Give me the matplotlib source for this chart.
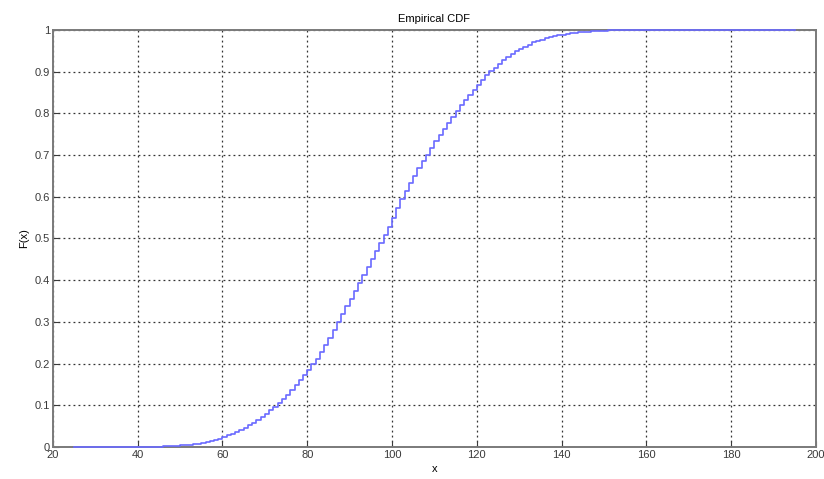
import numpy as np
import matplotlib.pyplot as plt

# valores (x entero -> F(x))
x_vals = list(range(25, 44)) + list(range(44, 155)) + [195]
F_cero = [0.0] * 19
F_medio = [
    0.001, 0.001, 0.002, 0.002, 0.003, 0.003, 0.004, 0.005, 0.006, 0.007,   # 44-53
    0.008, 0.010, 0.012, 0.014, 0.017, 0.020, 0.024, 0.028, 0.032, 0.036,   # 54-63
    0.041, 0.046, 0.052, 0.058, 0.065, 0.072, 0.080, 0.088, 0.096, 0.105,   # 64-73
    0.115, 0.125, 0.136, 0.148, 0.160, 0.172, 0.185, 0.198, 0.212, 0.228,   # 74-83
    0.245, 0.262, 0.281, 0.300, 0.318, 0.337, 0.356, 0.375, 0.394, 0.412,   # 84-93
    0.431, 0.450, 0.469, 0.488, 0.508, 0.527, 0.550, 0.572, 0.594, 0.614,   # 94-103
    0.633, 0.651, 0.668, 0.685, 0.701, 0.717, 0.733, 0.748, 0.763, 0.778,   # 104-113
    0.792, 0.806, 0.819, 0.832, 0.845, 0.857, 0.869, 0.880, 0.891, 0.901,   # 114-123
    0.910, 0.919, 0.927, 0.935, 0.942, 0.949, 0.955, 0.960, 0.965, 0.970,   # 124-133
    0.974, 0.977, 0.980, 0.983, 0.985, 0.987, 0.989, 0.991, 0.992, 0.993,   # 134-143
    0.994, 0.995, 0.996, 0.997, 0.997, 0.998, 0.998, 0.999, 0.999, 0.999,   # 144-153
    1.0,                                                                    # 154
]
F_vals = F_cero + F_medio + [1.0]

x_ticks = list(range(20, 201, 20))
y_ticks = [round(0.1 * i, 1) for i in range(11)]
y_labels = ["0", "0.1", "0.2", "0.3", "0.4", "0.5", "0.6", "0.7", "0.8", "0.9", "1"]

plt.rcParams['font.family'] = ['Liberation Sans', 'DejaVu Sans']

fig = plt.figure(figsize=(8.24, 4.79), dpi=100)
ax = fig.add_axes([0.0643, 0.0668, 0.9257, 0.8706])

# la linea va encima de los ejes, como en matlab
ax.step(x_vals, F_vals, where='post', color='#6a6aff', linewidth=1.2,
        zorder=5, clip_on=False)

ax.set_xlim(20, 200)
ax.set_ylim(0, 1)
ax.set_xticks(x_ticks)
ax.set_yticks(y_ticks)
ax.set_yticklabels(y_labels)
ax.tick_params(direction='in', length=4, labelsize=8, colors='#3a3a3a', pad=2)
ax.grid(True, linestyle=(0, (1.5, 2.5)), color='#333333', linewidth=0.9)

for s in ax.spines.values():
    s.set_color('#7a7a7a')
    s.set_linewidth(1.4)

ax.set_title('Empirical CDF', fontsize=8, pad=6)
ax.set_xlabel('x', fontsize=8, labelpad=3)
ax.set_ylabel('F(x)', fontsize=8, labelpad=4)

fig.savefig('out.png', dpi=100)
